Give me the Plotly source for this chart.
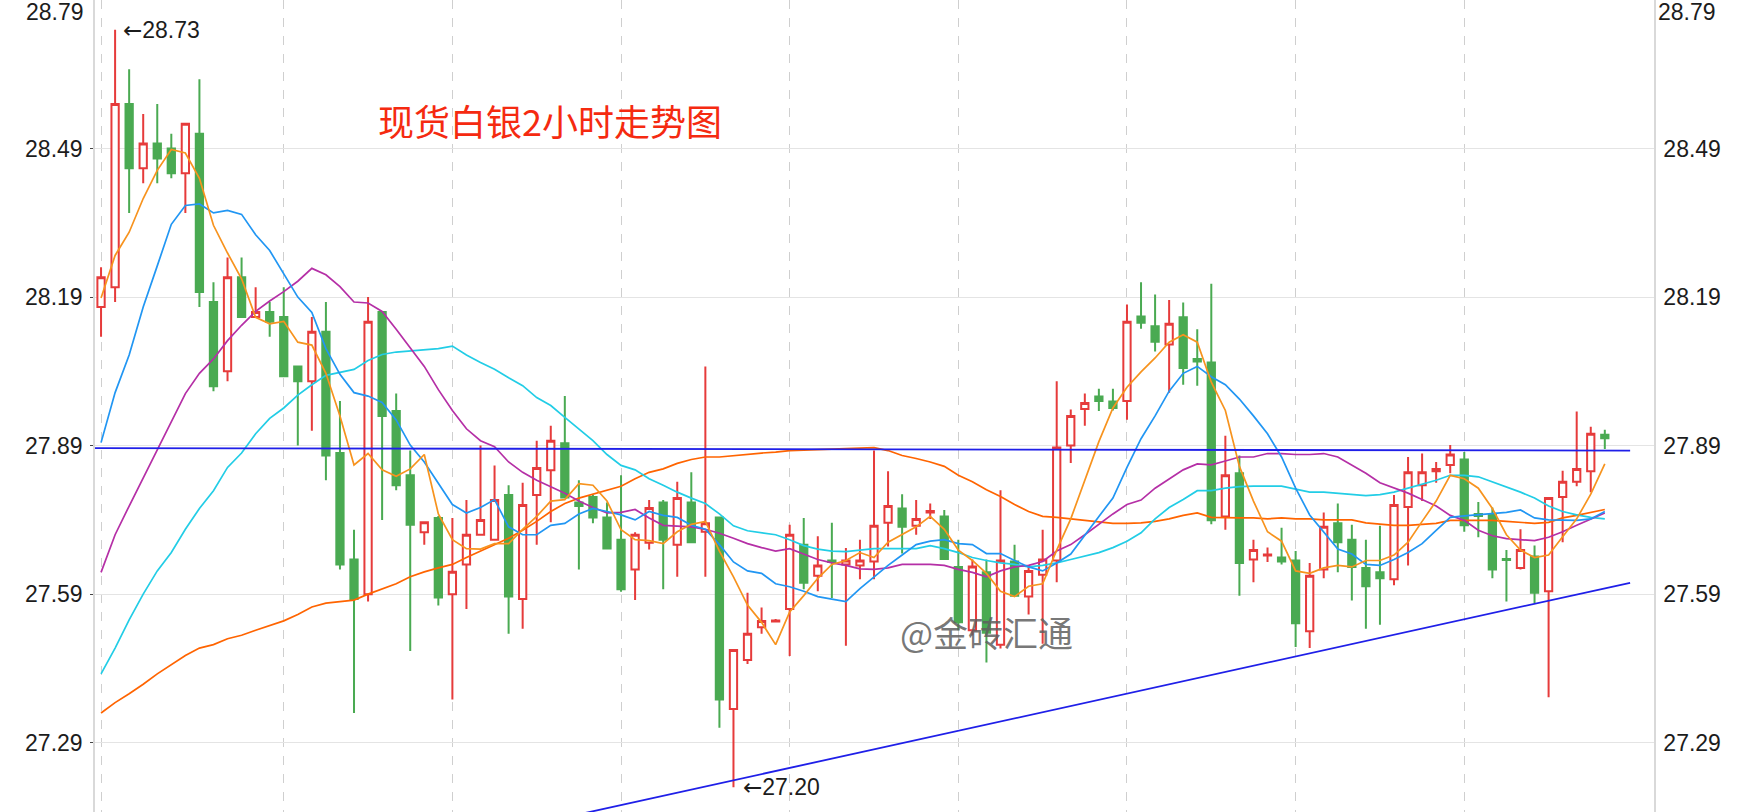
import plotly.graph_objects as go

# ---------------- data ----------------
opens = [28.17, 28.21, 28.58, 28.45, 28.50, 28.49, 28.44, 28.52, 28.18, 28.04,
         28.23, 28.15, 28.16, 28.15, 28.05, 28.02, 28.12, 27.875, 27.66, 27.59,
         28.16, 27.96, 27.83, 27.715, 27.744, 27.59, 27.65, 27.71, 27.70, 27.79,
         27.58, 27.79, 27.84, 27.895, 27.775, 27.786, 27.745, 27.70, 27.64, 27.694,
         27.775, 27.69, 27.775, 27.716, 27.745, 27.358, 27.457, 27.523, 27.535, 27.56,
         27.69, 27.627, 27.658, 27.65, 27.648, 27.656, 27.734, 27.763, 27.728, 27.755,
         27.747, 27.645, 27.517, 27.634, 27.488, 27.656, 27.585, 27.629, 27.658, 27.89,
         27.964, 27.989, 27.979, 27.98, 28.151, 28.131, 28.094, 28.149, 28.065, 28.058,
         27.747, 27.834, 27.66, 27.668, 27.664, 27.658, 27.515, 27.64, 27.733, 27.70,
         27.643, 27.634, 27.62, 27.766, 27.81, 27.838, 27.851, 27.862, 27.752, 27.752,
         27.661, 27.643, 27.666, 27.596, 27.786, 27.817, 27.838, 27.912]
highs = [28.25, 28.73, 28.65, 28.56, 28.58, 28.52, 28.54, 28.63, 28.22, 28.27,
         28.27, 28.21, 28.18, 28.21, 28.05, 28.15, 28.18, 27.98, 27.72, 28.19,
         28.16, 27.995, 27.88, 27.735, 27.748, 27.744, 27.78, 27.89, 27.85, 27.81,
         27.815, 27.90, 27.93, 27.99, 27.82, 27.79, 27.775, 27.83, 27.715, 27.78,
         27.78, 27.817, 27.836, 28.05, 27.745, 27.477, 27.593, 27.563, 27.54, 27.73,
         27.744, 27.707, 27.734, 27.683, 27.70, 27.88, 27.838, 27.792, 27.78, 27.773,
         27.76, 27.70, 27.66, 27.66, 27.80, 27.69, 27.648, 27.72, 28.02, 27.963,
         27.995, 28.005, 28.005, 28.175, 28.22, 28.195, 28.184, 28.179, 28.125, 28.217,
         27.91, 27.87, 27.70, 27.684, 27.724, 27.677, 27.653, 27.755, 27.773, 27.73,
         27.70, 27.728, 27.79, 27.867, 27.874, 27.857, 27.891, 27.877, 27.776, 27.765,
         27.679, 27.721, 27.688, 27.784, 27.839, 27.959, 27.928, 27.922]
lows = [28.11, 28.18, 28.36, 28.42, 28.42, 28.43, 28.36, 28.17, 28.00, 28.02,
        28.15, 28.15, 28.11, 28.03, 27.89, 27.92, 27.82, 27.64, 27.35, 27.575,
        27.74, 27.80, 27.475, 27.69, 27.567, 27.377, 27.56, 27.71, 27.70, 27.51,
        27.52, 27.69, 27.735, 27.785, 27.64, 27.733, 27.68, 27.595, 27.578, 27.68,
        27.60, 27.625, 27.695, 27.625, 27.32, 27.20, 27.449, 27.51, 27.533, 27.465,
        27.60, 27.596, 27.582, 27.486, 27.62, 27.62, 27.686, 27.672, 27.71, 27.742,
        27.66, 27.517, 27.507, 27.452, 27.48, 27.587, 27.549, 27.49, 27.614, 27.855,
        27.93, 27.96, 27.961, 27.942, 28.126, 28.08, 27.997, 28.013, 28.011, 27.731,
        27.72, 27.587, 27.614, 27.655, 27.65, 27.483, 27.481, 27.622, 27.634, 27.577,
        27.52, 27.528, 27.608, 27.648, 27.778, 27.815, 27.834, 27.716, 27.705, 27.622,
        27.575, 27.64, 27.572, 27.382, 27.695, 27.808, 27.796, 27.883]
closes = [28.23, 28.58, 28.45, 28.50, 28.47, 28.44, 28.54, 28.20, 28.01, 28.23,
          28.15, 28.16, 28.14, 28.03, 28.02, 28.12, 27.87, 27.65, 27.58, 28.14,
          27.95, 27.81, 27.73, 27.735, 27.583, 27.635, 27.71, 27.74, 27.78, 27.585,
          27.77, 27.845, 27.90, 27.785, 27.768, 27.745, 27.682, 27.60, 27.71, 27.764,
          27.70, 27.784, 27.695, 27.733, 27.377, 27.477, 27.51, 27.536, 27.537, 27.71,
          27.613, 27.648, 27.655, 27.658, 27.658, 27.728, 27.768, 27.726, 27.742, 27.758,
          27.661, 27.533, 27.646, 27.512, 27.658, 27.587, 27.637, 27.66, 27.886, 27.95,
          27.976, 27.98, 27.966, 28.14, 28.138, 28.10, 28.136, 28.047, 28.06, 27.739,
          27.83, 27.653, 27.679, 27.670, 27.656, 27.531, 27.627, 27.726, 27.695, 27.645,
          27.606, 27.622, 27.77, 27.836, 27.836, 27.843, 27.872, 27.729, 27.748, 27.64,
          27.659, 27.679, 27.593, 27.784, 27.817, 27.843, 27.914, 27.905]

ma5 = [28.188, 28.274, 28.321, 28.389, 28.446, 28.488, 28.481, 28.43, 28.335, 28.279,
       28.227, 28.149, 28.136, 28.141, 28.099, 28.093, 28.036, 27.95, 27.851, 27.874,
       27.841, 27.828, 27.843, 27.872, 27.752, 27.70, 27.682, 27.681, 27.692, 27.692,
       27.721, 27.747, 27.778, 27.781, 27.813, 27.81, 27.778, 27.72, 27.70, 27.698,
       27.692, 27.716, 27.731, 27.737, 27.677, 27.625, 27.568, 27.533, 27.488, 27.554,
       27.587, 27.622, 27.65, 27.658, 27.674, 27.664, 27.695, 27.71, 27.726, 27.747,
       27.721, 27.679, 27.658, 27.632, 27.596, 27.585, 27.606, 27.611, 27.679, 27.742,
       27.82, 27.898, 27.966, 28.008, 28.039, 28.067, 28.099, 28.114, 28.099, 28.018,
       27.961, 27.848, 27.778, 27.716, 27.697, 27.637, 27.632, 27.643, 27.648, 27.645,
       27.658, 27.658, 27.669, 27.695, 27.737, 27.778, 27.83, 27.823, 27.804, 27.763,
       27.71, 27.679, 27.664, 27.669, 27.706, 27.742, 27.792, 27.853]
ma10 = [27.896, 27.997, 28.073, 28.17, 28.253, 28.337, 28.375, 28.378, 28.36, 28.365,
        28.357, 28.316, 28.284, 28.237, 28.19, 28.159, 28.086, 28.034, 27.997, 27.99,
        27.977, 27.942, 27.891, 27.857, 27.815, 27.771, 27.754, 27.765, 27.781, 27.726,
        27.71, 27.71, 27.729, 27.733, 27.752, 27.763, 27.757, 27.75, 27.74, 27.757,
        27.749, 27.745, 27.729, 27.721, 27.69, 27.655, 27.637, 27.632, 27.611, 27.605,
        27.596, 27.585, 27.58, 27.575, 27.601, 27.624, 27.648, 27.669, 27.69, 27.697,
        27.70, 27.692, 27.69, 27.672, 27.672, 27.658, 27.645, 27.637, 27.653, 27.671,
        27.71, 27.747, 27.784, 27.846, 27.904, 27.95, 28.0, 28.036, 28.05, 28.029,
        28.013, 27.984, 27.95, 27.914, 27.867, 27.804, 27.75, 27.716, 27.681, 27.671,
        27.65, 27.648, 27.66, 27.674, 27.692, 27.719, 27.745, 27.748, 27.75, 27.752,
        27.755, 27.76, 27.744, 27.74, 27.74, 27.739, 27.742, 27.757]
ma20 = [27.634, 27.71, 27.768, 27.825, 27.883, 27.938, 27.995, 28.036, 28.065, 28.102,
        28.133, 28.161, 28.182, 28.201, 28.222, 28.248, 28.235, 28.211, 28.18, 28.178,
        28.161, 28.125, 28.088, 28.05, 28.003, 27.961, 27.924, 27.9, 27.888, 27.857,
        27.836, 27.82, 27.807, 27.794, 27.778, 27.765, 27.754, 27.755, 27.761, 27.744,
        27.729, 27.728, 27.726, 27.721, 27.713, 27.703, 27.692, 27.684, 27.677, 27.682,
        27.671, 27.66, 27.653, 27.648, 27.641, 27.64, 27.643, 27.65, 27.65, 27.65,
        27.648, 27.64, 27.634, 27.625, 27.637, 27.645, 27.648, 27.656, 27.677, 27.69,
        27.71, 27.731, 27.752, 27.771, 27.78, 27.804, 27.823, 27.841, 27.853, 27.851,
        27.859, 27.867, 27.867, 27.874, 27.874, 27.872, 27.872, 27.874, 27.867, 27.851,
        27.834, 27.815, 27.804, 27.794, 27.781, 27.768, 27.749, 27.739, 27.719, 27.708,
        27.702, 27.70, 27.698, 27.705, 27.716, 27.729, 27.742, 27.754]
ma30 = [27.429, 27.481, 27.538, 27.59, 27.637, 27.674, 27.721, 27.763, 27.799, 27.846,
        27.875, 27.914, 27.945, 27.966, 27.992, 28.013, 28.032, 28.038, 28.044, 28.062,
        28.074, 28.079, 28.081, 28.084, 28.086, 28.091, 28.073, 28.058, 28.044, 28.027,
        28.011, 27.987, 27.971, 27.947, 27.924, 27.9, 27.872, 27.85, 27.841, 27.823,
        27.81, 27.796, 27.784, 27.773, 27.752, 27.728, 27.718, 27.714, 27.71, 27.70,
        27.688, 27.681, 27.677, 27.676, 27.679, 27.682, 27.682, 27.682, 27.682, 27.688,
        27.682, 27.674, 27.664, 27.658, 27.653, 27.65, 27.645, 27.648, 27.653, 27.66,
        27.667, 27.674, 27.684, 27.697, 27.714, 27.742, 27.765, 27.781, 27.799, 27.799,
        27.804, 27.807, 27.808, 27.808, 27.808, 27.802, 27.796, 27.796, 27.794, 27.791,
        27.789, 27.791, 27.796, 27.804, 27.812, 27.82, 27.83, 27.83, 27.827, 27.817,
        27.807, 27.796, 27.784, 27.768, 27.757, 27.75, 27.745, 27.742]
ma60 = [27.35, 27.371, 27.389, 27.408, 27.429, 27.447, 27.466, 27.481, 27.488, 27.50,
        27.507, 27.517, 27.526, 27.536, 27.549, 27.564, 27.572, 27.575, 27.578, 27.59,
        27.601, 27.611, 27.625, 27.635, 27.643, 27.65, 27.664, 27.677, 27.69, 27.703,
        27.719, 27.737, 27.757, 27.773, 27.784, 27.792, 27.799, 27.808, 27.823, 27.836,
        27.843, 27.854, 27.862, 27.867, 27.867, 27.87, 27.872, 27.875, 27.877, 27.88,
        27.881, 27.882, 27.883, 27.884, 27.886, 27.886, 27.88, 27.87, 27.864, 27.857,
        27.848, 27.83, 27.817, 27.801, 27.787, 27.771, 27.757, 27.747, 27.745, 27.742,
        27.739, 27.737, 27.733, 27.733, 27.734, 27.737, 27.742, 27.749, 27.754, 27.745,
        27.744, 27.744, 27.744, 27.742, 27.744, 27.742, 27.742, 27.74, 27.74, 27.74,
        27.734, 27.731, 27.729, 27.729, 27.731, 27.733, 27.739, 27.739, 27.739, 27.739,
        27.737, 27.735, 27.733, 27.735, 27.744, 27.749, 27.755, 27.761]

# hand-drawn trend lines (candle index, price)
hline_x = [-0.43, 108.8]
hline_y = [27.885, 27.880]
tline_x = [33.0, 108.8]
tline_y = [27.139, 27.613]

y_ticks = [27.29, 27.59, 27.89, 28.19, 28.49]
y_top_label = "28.79"
grid_idx = [0, 13, 25, 37, 49, 61, 73, 85, 97]
title_text = "现货白银2小时走势图"
watermark = "@金砖汇通"
high_mark = (1.45, 28.73, "28.73")
low_mark = (45.5, 27.20, "27.20")

# ---------------- figure ----------------
x = list(range(len(opens)))
RED = "#e63b3b"
GREEN = "#4aaa52"
NUMFONT = "Liberation Sans, Arial, sans-serif"
NUMSIZE = 23
ARROW = "<span style='font-family:DejaVu Sans'>←</span>"

fig = go.Figure()

ma_styles = [
    (ma60, "#ff6400"),
    (ma30, "#22cde6"),
    (ma20, "#b52fa6"),
    (ma10, "#2196f3"),
]
for vals, col in ma_styles:
    fig.add_trace(go.Scatter(x=x, y=vals, mode="lines",
                             line=dict(color=col, width=1.7), hoverinfo="skip"))

fig.add_trace(go.Candlestick(
    x=x, open=opens, high=highs, low=lows, close=closes,
    increasing=dict(line=dict(color=RED, width=2), fillcolor="white"),
    decreasing=dict(line=dict(color=GREEN, width=2), fillcolor=GREEN),
    whiskerwidth=0,
))

fig.add_trace(go.Scatter(x=x, y=ma5, mode="lines",
                         line=dict(color="#f7931e", width=1.7), hoverinfo="skip"))

fig.add_trace(go.Scatter(x=hline_x, y=hline_y, mode="lines",
                         line=dict(color="#1f1fe8", width=1.8), hoverinfo="skip"))
fig.add_trace(go.Scatter(x=tline_x, y=tline_y, mode="lines",
                         line=dict(color="#1f1fe8", width=1.8), hoverinfo="skip",
                         yaxis="y2"))

y_range = [27.15, 28.79]
tick_text = ["%.2f" % v for v in y_ticks]
tickfont = dict(family=NUMFONT, size=NUMSIZE, color="#1c1c1c")

fig.update_layout(
    width=1738, height=812,
    margin=dict(l=95, r=84, t=0, b=0, autoexpand=False),
    paper_bgcolor="white", plot_bgcolor="white",
    showlegend=False,
    boxgap=0.26,
    xaxis=dict(range=[-0.43, 110.5], tickvals=grid_idx, showticklabels=False,
               ticks="", showgrid=True, gridcolor="#cfcfcf", griddash="dash",
               gridwidth=1, zeroline=False, rangeslider=dict(visible=False),
               showline=False, automargin=False),
    yaxis=dict(range=y_range, tickvals=y_ticks, ticktext=tick_text,
               showgrid=True, gridcolor="#e4e4e4", zeroline=False,
               showline=True, linecolor="#d9d9d9", linewidth=1.5,
               ticks="outside", ticklen=3, tickcolor="#444",
               ticklabelstandoff=3, automargin=False, tickfont=tickfont),
    yaxis2=dict(range=y_range, tickvals=y_ticks, ticktext=tick_text,
                overlaying="y", side="right", showgrid=False, zeroline=False,
                showline=True, linecolor="#d9d9d9", linewidth=1.5,
                ticks="", ticklabelstandoff=3, automargin=False, tickfont=tickfont),
)

ann = []
ann.append(dict(xref="paper", yref="paper", x=0, y=1, text=y_top_label,
                xanchor="right", yanchor="middle", xshift=-9, yshift=-12, showarrow=False,
                font=tickfont))
ann.append(dict(xref="paper", yref="paper", x=1, y=1, text=y_top_label,
                xanchor="left", yanchor="middle", xshift=2, yshift=-12, showarrow=False,
                font=tickfont))
ann.append(dict(xref="x", yref="y", x=high_mark[0], y=high_mark[1],
                text=ARROW + high_mark[2],
                xanchor="left", yanchor="middle", showarrow=False, font=tickfont))
ann.append(dict(xref="x", yref="y", x=low_mark[0], y=low_mark[1],
                text=ARROW + low_mark[2],
                xanchor="left", yanchor="middle", showarrow=False, font=tickfont))
ann.append(dict(xref="paper", yref="paper", x=0.292, y=0.852, text=title_text,
                xanchor="center", yanchor="middle", showarrow=False,
                font=dict(family="Noto Sans CJK SC", size=36, color="#f52a10")))
ann.append(dict(xref="paper", yref="paper", x=0.572, y=0.222, text=watermark,
                xanchor="center", yanchor="middle", showarrow=False,
                font=dict(family="Noto Sans CJK SC", size=35, color="rgba(95,95,95,0.85)")))
fig.update_layout(annotations=ann)

fig.write_html("out.html",
               config={"displayModeBar": False},
               post_script="document.body.style.margin='0';document.body.style.padding='0';")
